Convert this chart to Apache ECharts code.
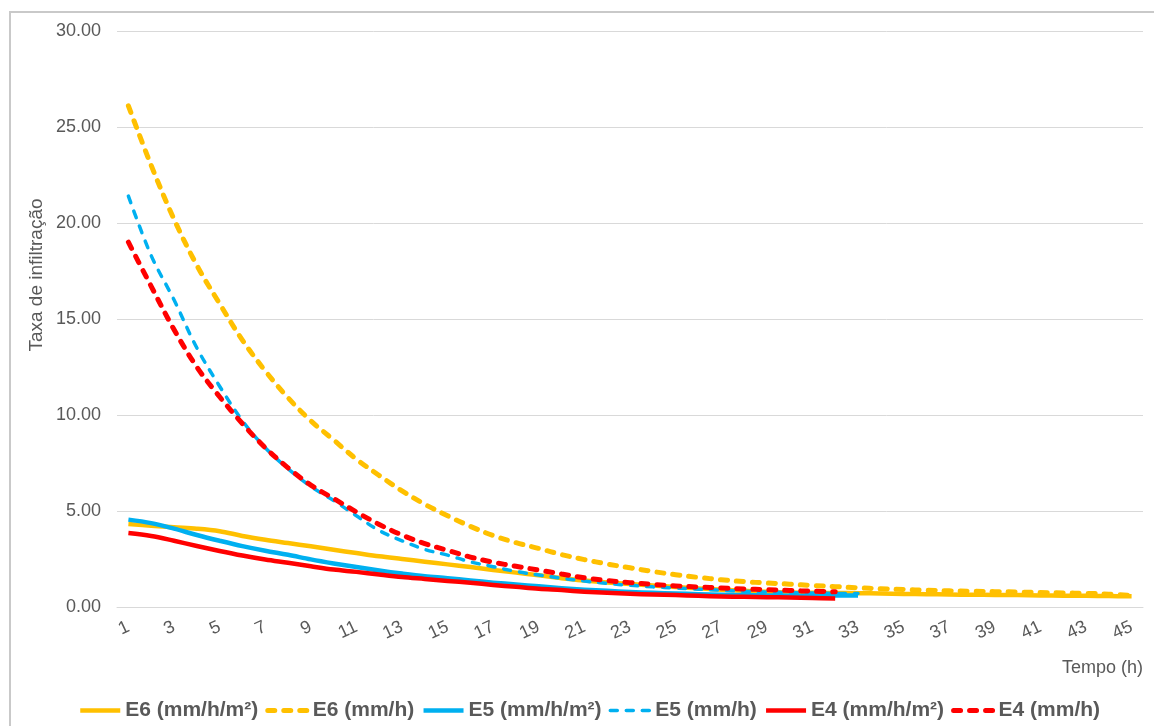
<!DOCTYPE html>
<html>
<head>
<meta charset="utf-8">
<title>Taxa de infiltração</title>
<script src="https://cdn.jsdelivr.net/npm/echarts@6/dist/echarts.min.js"></script>
<style>
  html, body { margin: 0; padding: 0; background: #ffffff; }
  #chart { width: 1154px; height: 726px; }
</style>
</head>
<body>
<div id="chart"></div>
<script>
// Tempo (h)
const hours = ['1','2','3','4','5','6','7','8','9','10','11','12','13','14','15',
  '16','17','18','19','20','21','22','23','24','25','26','27','28','29','30',
  '31','32','33','34','35','36','37','38','39','40','41','42','43','44','45'];

// E6
const e6Area = [4.32, 4.23, 4.15, 4.08, 3.95, 3.70, 3.50, 3.33, 3.16, 2.98,
  2.81, 2.64, 2.50, 2.36, 2.22, 2.08, 1.93, 1.79, 1.65, 1.50,
  1.38, 1.28, 1.20, 1.12, 1.04, 0.97, 0.90, 0.84, 0.79, 0.76,
  0.74, 0.73, 0.72, 0.70, 0.68, 0.67, 0.65, 0.64, 0.63, 0.62,
  0.60, 0.59, 0.58, 0.57, 0.56];
const e6Rate = [26.10, 23.00, 20.20, 17.80, 15.80, 13.90, 12.30, 10.90, 9.70, 8.70,
  7.70, 6.85, 6.05, 5.35, 4.75, 4.20, 3.72, 3.35, 3.05, 2.73,
  2.47, 2.24, 2.04, 1.85, 1.68, 1.54, 1.42, 1.32, 1.25, 1.19,
  1.12, 1.06, 1.00, 0.95, 0.91, 0.87, 0.84, 0.82, 0.80, 0.78,
  0.75, 0.73, 0.71, 0.67, 0.60];

// E5
const e5Area = [4.55, 4.37, 4.08, 3.75, 3.45, 3.17, 2.93, 2.72, 2.48, 2.27,
  2.08, 1.90, 1.74, 1.60, 1.50, 1.38, 1.27, 1.17, 1.08, 0.98,
  0.90, 0.84, 0.78, 0.74, 0.70, 0.67, 0.64, 0.62, 0.60, 0.59,
  0.58, 0.60, 0.60];
const e5Rate = [21.40, 18.30, 16.00, 13.50, 11.50, 9.70, 8.30, 7.20, 6.28, 5.55,
  4.75, 3.98, 3.45, 3.00, 2.70, 2.35, 2.10, 1.85, 1.67, 1.50,
  1.35, 1.23, 1.13, 1.05, 0.99, 0.93, 0.87, 0.82, 0.78, 0.75,
  0.73, 0.71, 0.70];

// E4
const e4Area = [3.85, 3.70, 3.45, 3.18, 2.92, 2.68, 2.47, 2.30, 2.12, 1.95,
  1.83, 1.69, 1.56, 1.46, 1.36, 1.26, 1.15, 1.05, 0.95, 0.88,
  0.80, 0.74, 0.69, 0.65, 0.62, 0.58, 0.55, 0.53, 0.51, 0.50,
  0.47, 0.44];
const e4Rate = [19.00, 16.70, 14.45, 12.50, 10.95, 9.55, 8.30, 7.25, 6.35, 5.65,
  4.95, 4.30, 3.75, 3.30, 2.95, 2.60, 2.33, 2.12, 1.92, 1.72,
  1.52, 1.38, 1.27, 1.18, 1.10, 1.04, 0.99, 0.94, 0.90, 0.86,
  0.82, 0.79];

const YELLOW = '#FFC000';
const BLUE = '#00B0F0';
const RED = '#FF0000';
const FONT = '"Liberation Sans", Arial, sans-serif';
const TEXT = '#595959';

function lineSeries(name, data, color, width, dashed) {
  return {
    name: name,
    type: 'line',
    data: data,
    smooth: 0.35,
    symbol: 'none',
    showSymbol: false,
    lineStyle: {
      color: color,
      width: width,
      type: dashed ? [7, 9] : 'solid',
      cap: dashed ? 'round' : 'butt',
      join: 'round'
    },
    itemStyle: { color: color },
    emphasis: { disabled: true }
  };
}

const chart = echarts.init(document.getElementById('chart'), null, { renderer: 'canvas' });

chart.setOption({
  animation: false,
  backgroundColor: '#ffffff',
  textStyle: { fontFamily: FONT },
  graphic: [
    {
      type: 'rect',
      shape: { x: 10, y: 12, width: 1170, height: 740 },
      style: { fill: 'none', stroke: '#C9C9C9', lineWidth: 2 },
      silent: true,
      z: -10
    },
    {
      type: 'text',
      x: 37, y: 275,
      rotation: Math.PI / 2,
      style: {
        text: 'Taxa de infiltração',
        fill: TEXT,
        font: '19px ' + FONT,
        align: 'center',
        verticalAlign: 'middle'
      },
      silent: true
    },
    {
      type: 'text',
      x: 1143, y: 668,
      style: {
        text: 'Tempo (h)',
        fill: TEXT,
        font: '18px ' + FONT,
        align: 'right',
        verticalAlign: 'middle'
      },
      silent: true
    }
  ],
  grid: { left: 117, right: 11, top: 31, bottom: 119, containLabel: false },
  legend: {
    left: 73,
    top: 695,
    itemWidth: 40,
    itemHeight: 14,
    itemGap: 7,
    itemStyle: { opacity: 0 },
    lineStyle: { width: 'inherit', type: 'inherit' },
    textStyle: { color: TEXT, fontSize: 21, fontWeight: 'bold', fontFamily: FONT },
    data: ['E6 (mm/h/m²)', 'E6 (mm/h)', 'E5 (mm/h/m²)', 'E5 (mm/h)', 'E4 (mm/h/m²)', 'E4 (mm/h)']
  },
  xAxis: {
    type: 'category',
    data: hours,
    boundaryGap: true,
    axisLine: { show: true, lineStyle: { color: '#D9D9D9', width: 1 } },
    axisTick: { show: false },
    axisLabel: {
      interval: 1,
      rotate: 25,
      margin: 19,
      color: TEXT,
      fontSize: 18,
      fontFamily: FONT
    },
    splitLine: { show: false }
  },
  yAxis: {
    type: 'value',
    min: 0,
    max: 30,
    interval: 5,
    axisLine: { show: false },
    axisTick: { show: false },
    axisLabel: {
      margin: 16,
      color: TEXT,
      fontSize: 18,
      fontFamily: FONT,
      formatter: function (v) { return v.toFixed(2); }
    },
    splitLine: { show: true, lineStyle: { color: '#D9D9D9', width: 1 } }
  },
  series: [
    lineSeries('E6 (mm/h/m²)', e6Area, YELLOW, 4.5, false),
    lineSeries('E6 (mm/h)', e6Rate, YELLOW, 5, true),
    lineSeries('E5 (mm/h/m²)', e5Area, BLUE, 4.5, false),
    lineSeries('E5 (mm/h)', e5Rate, BLUE, 3.5, true),
    lineSeries('E4 (mm/h/m²)', e4Area, RED, 4.5, false),
    lineSeries('E4 (mm/h)', e4Rate, RED, 5, true)
  ]
});
</script>
</body>
</html>
